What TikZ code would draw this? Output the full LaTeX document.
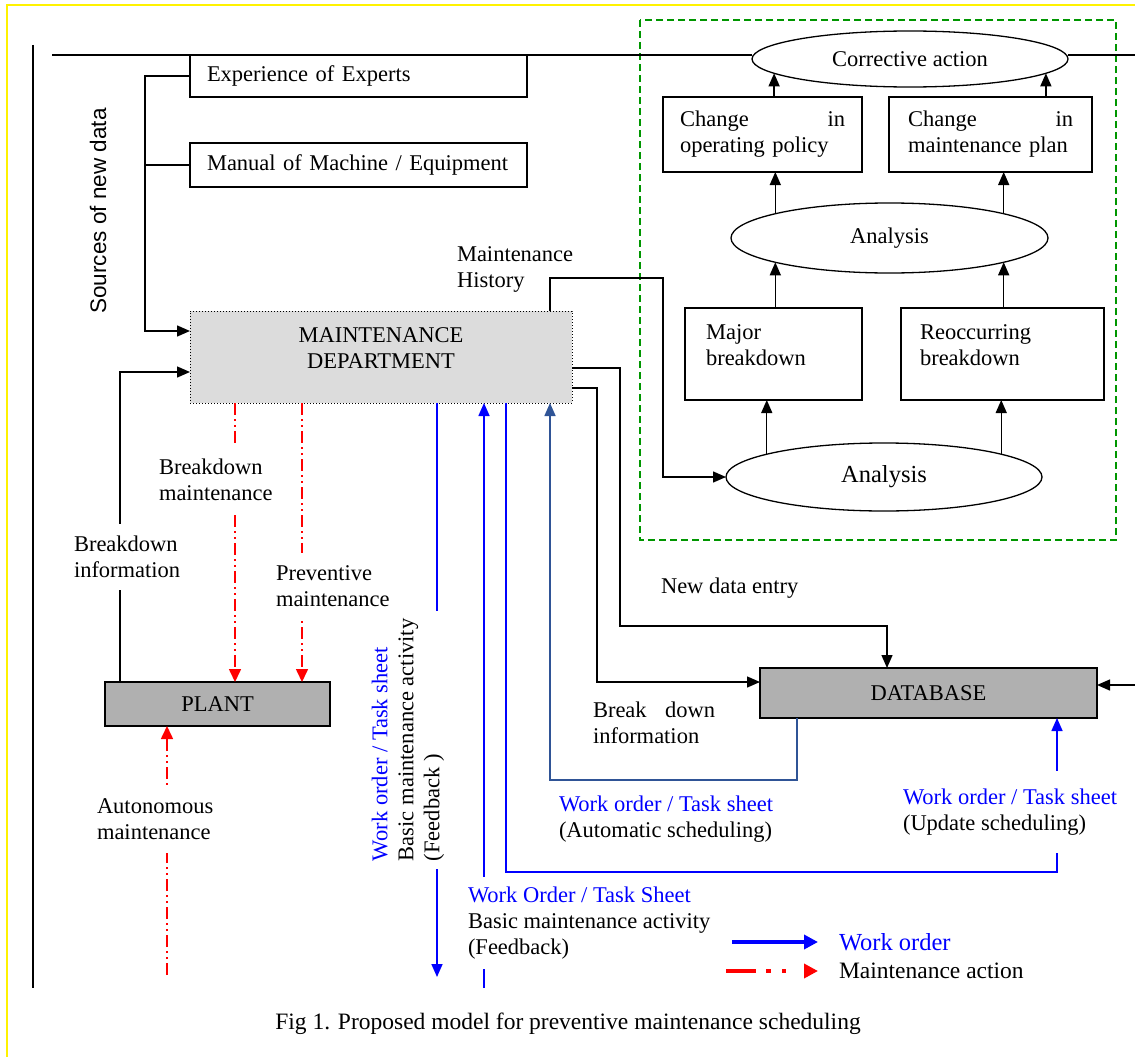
\documentclass[tikz,border=0pt]{standalone}
\usepackage{fontspec}
\setmainfont{Liberation Serif}
\setsansfont{Liberation Sans}
\usetikzlibrary{arrows.meta,calc,positioning,shapes.geometric}
\definecolor{mdgrey}{RGB}{220,220,220}
\definecolor{boxgrey}{RGB}{176,176,176}
\definecolor{framegreen}{RGB}{0,150,0}
\definecolor{darkblue}{RGB}{47,84,150}

\begin{document}
\begin{tikzpicture}[x=1pt,y=-1pt,
  font=\fontsize{22.5}{26}\selectfont,
  every node/.style={outer sep=0pt},
  box/.style={rectangle,draw,line width=1.3pt,align=left},
  greybox/.style={rectangle,draw,line width=2pt,fill=boxgrey},
  oval/.style={ellipse,draw,line width=1.3pt,inner sep=0pt},
  conn/.style={line width=1.4pt},
  arr/.style={line width=1.4pt,-{Triangle[length=13pt,width=11pt]}},
  maint/.style={red,line width=1.6pt,dash pattern=on 12pt off 4pt on 2pt off 4pt on 2pt off 4pt,
    -{Triangle[length=13pt,width=12pt]}},
  wo/.style={blue,line width=1.6pt,-{Triangle[length=13pt,width=11pt]}},
  wodark/.style={darkblue,line width=1.6pt,-{Triangle[length=13pt,width=11pt]}},
  txt/.style={align=left,inner sep=3pt},
  lbl/.style={align=left,inner xsep=3pt,inner ysep=12pt,fill=white}]
\useasboundingbox (0,0) rectangle (1135,1057);
\draw[yellow,line width=1.5pt] (7,1060) -- (7,5) -- (1140,5);
\draw[framegreen,line width=1.3pt,dash pattern=on 7pt off 4pt] (640,20) rectangle (1116,540);

% outer lines
\coordinate (lineT) at (33,45);
\coordinate (lineB) at (33,988);
\draw[conn] (lineT) -- (lineB);
\coordinate (topL) at (52,55);
\coordinate (topR) at (1135,55);

% sources, department, plant, database
\node[box,text width=303pt,inner xsep=17pt,minimum height=42pt] (exp) at (358.5,76) {Experience of Experts};
\node[box,text width=303pt,inner xsep=17pt,minimum height=44pt] (man) at (358.5,165) {Manual of Machine / Equipment};
\node[rotate=90,font=\sffamily\fontsize{22.5}{26}\selectfont] (src) at (98,211) {Sources of new data};
\node[draw,dotted,line width=1pt,fill=mdgrey,text width=340pt,align=center,
  minimum width=382pt,minimum height=92pt,text depth=44pt] (md) at (381,357) {MAINTENANCE\\DEPARTMENT};
\node[greybox,minimum width=225pt,minimum height=44pt] (plant) at (217.5,704) {PLANT};
\node[greybox,minimum width=337pt,minimum height=50pt] (db) at (928.5,693) {DATABASE};

% analysis block
\node[oval,minimum width=316pt,minimum height=56pt] (corr) at (910,59) {Corrective action};
\node[box,text width=165pt,inner xsep=17pt,minimum height=75pt] (chop) at (762.5,134.5) {Change\hfill in\\operating policy};
\node[box,text width=165pt,inner xsep=19pt,minimum height=75pt] (chmp) at (990.5,134.5) {Change\hfill in\\maintenance plan};
\node[oval,minimum width=317pt,minimum height=70pt] (an1) at (889.5,238) {Analysis};
\node[box,text width=135pt,inner xsep=21pt,minimum height=92pt,text depth=44pt] (major) at (773.5,354) {Major\\breakdown};
\node[box,text width=165pt,inner xsep=19pt,minimum height=92pt,text depth=44pt] (reoc) at (1002.5,354) {Reoccurring\\breakdown};
\node[oval,minimum width=316pt,minimum height=68pt,font=\fontsize{24.5}{28}\selectfont] (an2) at (884,477) {Analysis};

\draw[conn] (topL) -- (topL -| corr.west);
\draw[conn] (corr.east |- topR) -- (topR);
\draw[arr] (chop.north -| corr.186) -- (corr.186);
\draw[arr] (chmp.north -| corr.354) -- (corr.354);
\draw[arr] (an1.168) -- (an1.168 |- chop.south);
\draw[arr] (an1.12) -- (an1.12 |- chmp.south);
\draw[arr] (major.north -| an1.192) -- (an1.192);
\draw[arr] (reoc.north -| an1.348) -- (an1.348);
\draw[arr] (an2.169) -- (an2.169 |- major.south);
\draw[arr] (an2.11) -- (an2.11 |- reoc.south);

% black connectors
\draw[arr] (exp.west) -- ++(-45,0) |- ($(md.north west)+(0,20)$);
\draw[conn] (man.west) -- ++(-45,0);
\draw[arr] ($(plant.north west)+(15,0)$) |- ($(md.south west)+(0,-31)$);
\coordinate (mh) at (663,278);
\draw[arr] ($(md.north west)+(360,0)$) |- (mh) |- (an2.west);
\coordinate (nd) at (620,626);
\draw[arr] ($(md.east)+(0,11)$) -| (nd) -| ($(db.north west)+(127,0)$);
\coordinate (bd) at (597,682);
\draw[arr] ($(md.east)+(0,31)$) -| (bd) -- (bd -| db.west);
\coordinate (dbin) at (1135,685);
\draw[arr] (dbin) -- (dbin -| db.east);

% maintenance actions
\coordinate (bm) at ($(md.south west)+(45,0)$);
\draw[maint] (bm) -- (bm |- plant.north);
\coordinate (pm) at ($(md.south west)+(112,0)$);
\draw[maint] (pm) -- (pm |- plant.north);
\coordinate (am) at (167,975);
\draw[maint] (am) -- (am |- plant.south);

% work orders
\coordinate (wo1) at (437,977);
\draw[wo] (wo1 |- md.south) -- (wo1);
\coordinate (wo2) at (484,988);
\draw[wo] (wo2) -- (wo2 |- md.south);
\coordinate (wo3) at (506,872);
\draw[wo] (wo3 |- md.south) -- (wo3) -| ($(db.south west)+(297,0)$);
\coordinate (as) at (550,780);
\draw[wodark] ($(db.south west)+(37,0)$) |- (as) -- (as |- md.south);

% labels
\node[lbl,anchor=west] (bdinfo) at (71,557) {Breakdown\\information};
\node[lbl,anchor=west,inner ysep=14pt] (bmlbl) at (156,480) {Breakdown\\maintenance};
\node[lbl,anchor=west] (pmlbl) at (273,586) {Preventive\\maintenance};
\node[lbl,anchor=west,inner ysep=13pt] (amlbl) at (94,819) {Autonomous\\maintenance};
\node[lbl,rotate=90,anchor=west,inner xsep=8pt,inner ysep=3pt] (wo1lbl) at (408,869)
  {\textcolor{blue}{Work order / Task sheet}\\Basic maintenance activity\\(Feedback )};
\node[lbl,anchor=west,inner ysep=10pt] (wo2lbl) at (465,923)
  {\textcolor{blue}{Work Order / Task Sheet}\\Basic maintenance activity\\(Feedback)};
\node[lbl,anchor=west,inner ysep=18pt] (wo3lbl) at (900,812)
  {\textcolor{blue}{Work order / Task sheet}\\(Update scheduling)};
\node[txt,anchor=west] (aslbl) at (556,819) {\textcolor{blue}{Work order / Task sheet}\\(Automatic scheduling)};
\node[txt,anchor=west] (mhlbl) at (454,269) {Maintenance\\History};
\node[txt,anchor=west] (ndlbl) at (658,588) {New data entry};
\node[txt,anchor=west,text width=122pt] (bdlbl) at (590,723) {Break\hfill down\\information};

% legend and caption
\node[txt,anchor=west,text=blue,font=\fontsize{24.5}{28}\selectfont] (lgwo) at (836,942) {Work order};
\node[txt,anchor=west,font=\fontsize{23.5}{28}\selectfont] (lgma) at (836,971) {Maintenance action};
\draw[blue,line width=3.5pt,-{Triangle[length=14pt,width=14pt]}] ($(lgwo.west)+(-104,0)$) -- ($(lgwo.west)+(-18,0)$);
\draw[red,line width=4pt,dash pattern=on 30pt off 10pt on 5pt off 11pt on 4pt off 20pt,-{Triangle[length=14pt,width=14pt]}]
  ($(lgma.west)+(-110,0)$) -- ($(lgma.west)+(-18,0)$);
\node[font=\fontsize{23.5}{28}\selectfont] (cap) at (568,1024) {Fig 1. Proposed model for preventive maintenance scheduling};
\end{tikzpicture}
\end{document}
